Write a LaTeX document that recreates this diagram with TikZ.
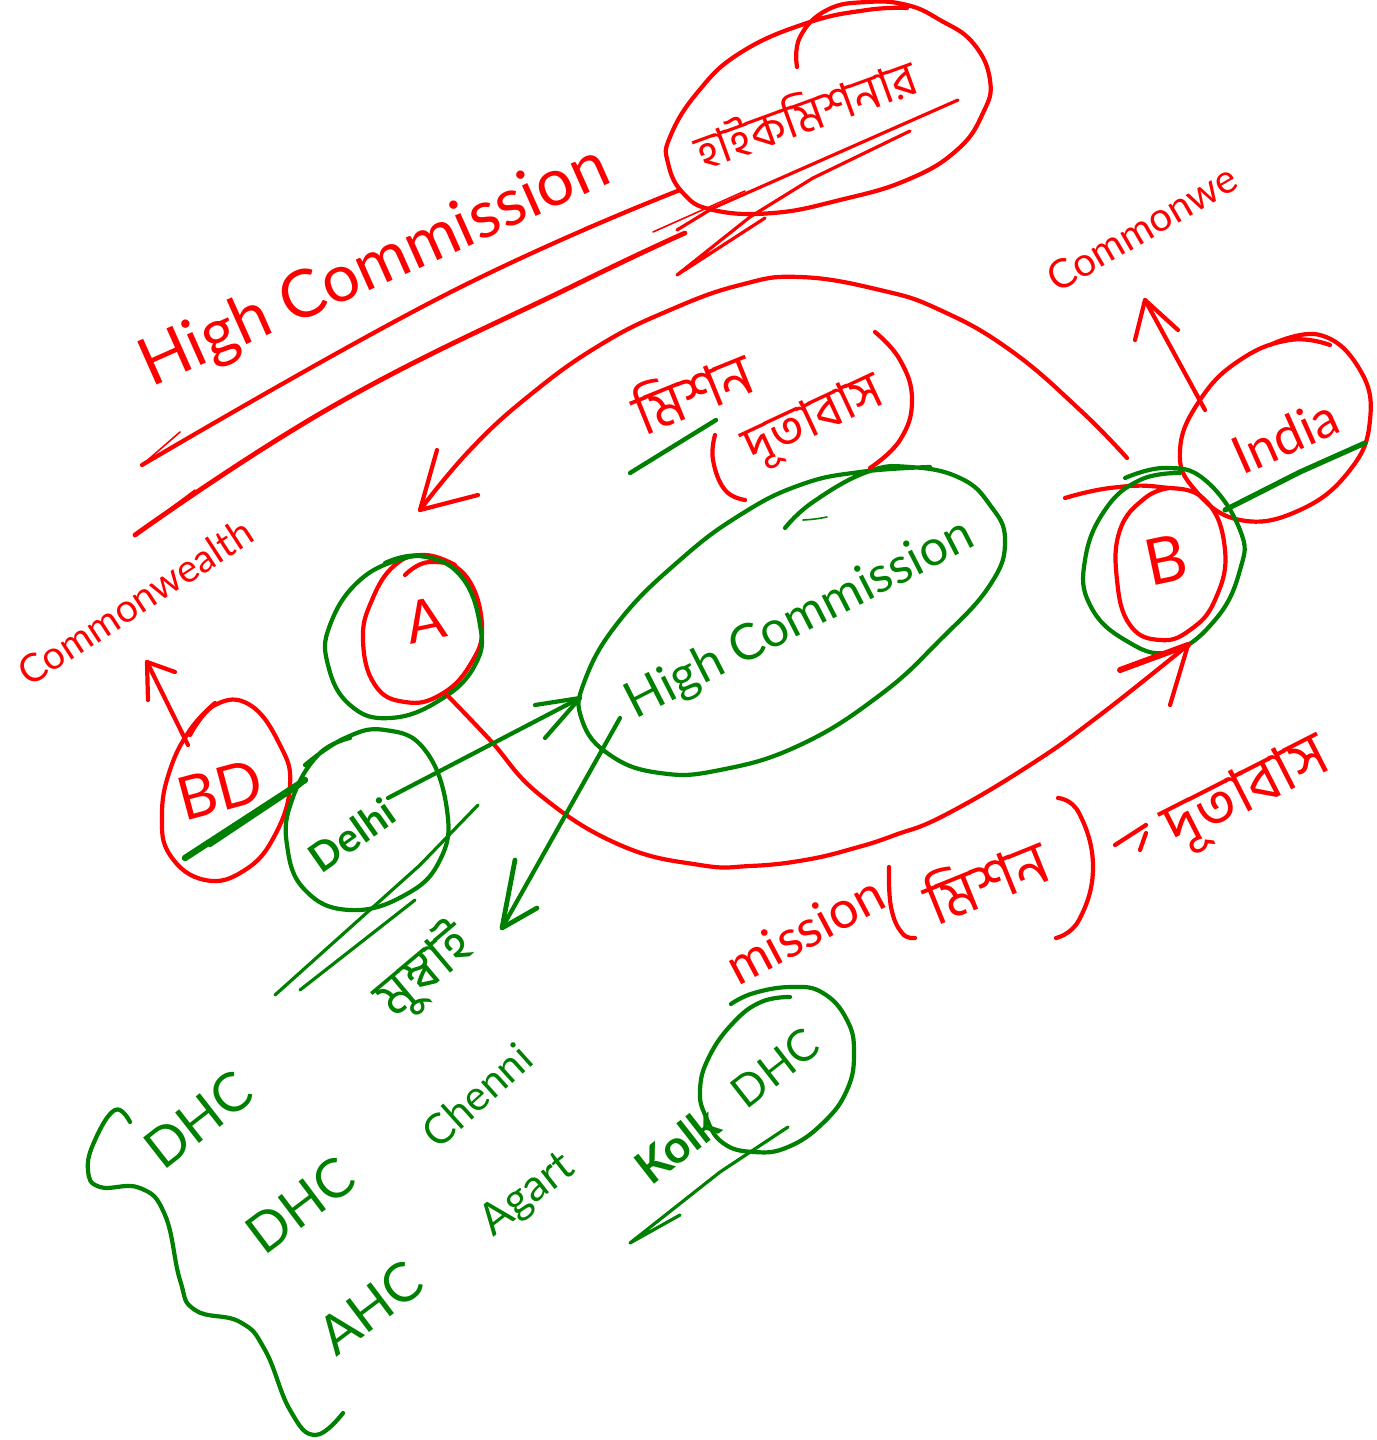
\documentclass[tikz,border=0pt]{standalone}
\usepackage{fontspec}
\setmainfont{Lato}
\newfontfamily\bn[Script=Bengali]{Hind Siliguri}
\definecolor{inkred}{RGB}{255,0,0}
\definecolor{inkgreen}{RGB}{0,128,0}
\newcommand\skk[2]{\draw[#1] plot[smooth,tension=.75] coordinates {#2};}
\tikzset{
  rd/.style={draw=inkred,line width=2.1pt,line cap=round,line join=round},
  gn/.style={draw=inkgreen,line width=2.1pt,line cap=round,line join=round},
  thinr/.style={rd,line width=.8pt},
  thing/.style={gn,line width=.8pt},
  fatr/.style={rd,line width=3pt},
  fatg/.style={gn,line width=3.2pt},
  rt/.style={text=inkred,inner sep=0pt},
  gt/.style={text=inkgreen,inner sep=0pt},
}
\begin{document}
\begin{tikzpicture}[x=0.5pt,y=-0.5pt]
\useasboundingbox (0,0) rectangle (1376,1440);
% ---- text
\node[rt,rotate=24,font=\fontsize{33}{33}\selectfont] (hc1) at (375,268) {High Commission};
\node[rt,rotate=20,font=\bn\fontsize{24}{24}\selectfont] (hckb) at (805,112) {হাইকমিশনার};
\node[rt,rotate=30,font=\fontsize{20}{20}\selectfont] (cwr) at (1142,228) {Commonwe};
\node[rt,rotate=33,font=\fontsize{19.5}{19.5}\selectfont] (cwl) at (135,602) {Commonwealth};
\node[rt,rotate=22,font=\bn\fontsize{29}{29}\selectfont] (mis1) at (692,390) {মিশন};
\node[rt,rotate=25,font=\bn\fontsize{26}{26}\selectfont] (dut1) at (815,422) {দূতাবাস};
\node[rt,rotate=28,font=\fontsize{26}{26}\selectfont] (m2) at (805,930) {mission};
\node[rt,rotate=22,font=\bn\fontsize{30}{30}\selectfont] (mis2) at (985,878) {মিশন};
\node[rt,rotate=27,font=\bn\fontsize{31}{31}\selectfont] (dut2) at (1248,795) {দূতাবাস};
\node[rt,rotate=12,font=\fontsize{29}{29}\selectfont] (a) at (425,620) {A};
\node[rt,rotate=12,font=\fontsize{32}{32}\selectfont] (b) at (1166,560) {B};
\node[rt,rotate=15,font=\fontsize{30}{30}\selectfont] (bd) at (220,790) {BD};
\node[rt,rotate=24,font=\fontsize{26}{26}\selectfont] (india) at (1285,436) {India};
\node[gt,rotate=27,font=\fontsize{25}{25}\selectfont] (hc2) at (800,620) {High Commission};
\node[gt,rotate=35,font=\bfseries\fontsize{20}{20}\selectfont] (delhi) at (352,835) {Delhi};
\node[gt,rotate=40,font=\bn\fontsize{28}{28}\selectfont] (mum) at (425,972) {মুম্বাই};
\node[gt,rotate=38,font=\fontsize{27}{27}\selectfont] (dhc1) at (198,1120) {DHC};
\node[gt,rotate=37,font=\fontsize{27}{27}\selectfont] (dhc2) at (300,1205) {DHC};
\node[gt,rotate=37,font=\fontsize{27}{27}\selectfont] (ahc) at (370,1308) {AHC};
\node[gt,rotate=42,font=\fontsize{21}{21}\selectfont] (chen) at (477,1095) {Chenni};
\node[gt,rotate=38,font=\fontsize{22}{22}\selectfont] (agar) at (528,1195) {Agart};
\node[gt,rotate=38,font=\bfseries\fontsize{23}{23}\selectfont] (kol) at (677,1145) {Kolk};
\node[gt,rotate=38,font=\fontsize{22}{22}\selectfont] (dhc3) at (775,1068) {DHC};
% ---- anchor points of the connectors
\coordinate (aFoot) at (447,695);
\coordinate (bFoot) at (1188,645);
\coordinate (bTop) at (1127,458);
\coordinate (aTop) at (420,510);
\coordinate (indiaEdge) at (1205,410);
\coordinate (cwrFoot) at (1145,300);
\coordinate (bdEdge) at (188,745);
\coordinate (cwlFoot) at (147,662);
\coordinate (delhiEdge) at (388,798);
\coordinate (hcEdge) at (580,698);
\coordinate (hcFoot) at (620,718);
\coordinate (mumTop) at (502,928);
% ---- red circles
\skk{rd}{(797,67)(800,37)(827,10)(867,2)(907,5)(940,20)(973,43)(990,80)(983,113)(957,150)(907,180)(840,200)(773,213)(713,210)(683,193)(668,163)(670,137)(697,93)(740,53)(807,23)(867,10)(907,8)}
\skk{rd}{(405,575)(430,562)(465,575)(482,625)(470,665)(440,695)(405,702)(375,685)(363,640)(372,600)(395,565)(425,555)(455,565)}
\skk{rd}{(190,735)(215,705)(250,705)(280,745)(290,785)(275,835)(245,870)(205,880)(170,855)(162,815)(170,770)(190,730)(215,703)}
\skk{rd}{(1065,498)(1110,488)(1160,487)(1205,500)(1225,550)(1215,600)(1190,630)(1160,640)(1130,625)(1117,580)(1120,530)(1145,498)(1170,488)}
\skk{rd}{(1270,345)(1320,335)(1360,370)(1370,420)(1350,470)(1300,510)(1240,520)(1195,490)(1180,450)(1200,400)(1240,360)(1290,340)(1330,345)}
% ---- green circles
\skk{gn}{(385,563)(420,556)(460,575)(480,625)(475,665)(440,700)(390,718)(350,705)(328,665)(330,625)(360,580)(405,558)(430,558)}
\skk{gn}{(305,765)(345,738)(385,730)(425,750)(447,810)(440,860)(405,895)(350,910)(305,890)(287,845)(292,800)(318,755)(350,738)}
\skk{gn}{(1125,478)(1165,468)(1205,480)(1240,530)(1240,570)(1215,620)(1170,652)(1125,640)(1090,605)(1085,560)(1105,510)(1140,480)(1180,473)}
\skk{gn}{(785,528)(813,502)(867,472)(910,467)(960,478)(990,505)(1005,540)(990,585)(940,640)(880,695)(800,745)(720,770)(660,773)(610,755)(582,720)(585,680)(620,620)(680,560)(740,515)(800,485)(860,472)(930,467)}
\skk{thing}{(803,520)(815,519)(827,517)}
\skk{gn}{(731,1004)(754,993)(792,987)(823,993)(847,1020)(854,1053)(847,1090)(823,1123)(788,1147)(754,1152)(723,1143)(706,1117)(700,1090)(709,1057)(733,1023)(761,1002)(790,997)}
% ---- red connectors with hand drawn heads
\skk{rd}{(aFoot)(490,740)(540,795)(620,845)(700,865)(750,866)(805,860)(855,848)(895,835)(945,815)(1030,765)(1100,715)(bFoot)}
\draw[fatr] (1120,670) -- (bFoot);
\draw[rd] (bFoot) -- (1170,705);
\skk{rd}{(bTop)(1080,410)(1010,350)(940,310)(880,290)(800,277)(740,285)(670,310)(600,345)(530,395)(470,450)(aTop)}
\draw[rd] (437,450) -- (aTop) -- (478,495);
\draw[rd] (indiaEdge) -- (cwrFoot);
\draw[rd] (1135,340) -- (cwrFoot) -- (1178,330);
\draw[rd] (bdEdge) -- (cwlFoot);
\draw[rd] (148,700) -- (cwlFoot) -- (175,672);
% ---- green connectors
\draw[gn] (delhiEdge) -- (hcEdge);
\draw[gn] (535,705) -- (hcEdge) -- (545,738);
\draw[gn] (hcFoot) -- (mumTop);
\draw[fatg,line width=2.4pt] (515,860) -- (mumTop) -- (537,908);
% ---- red underlines
\skk{rd}{(142,465)(445,295)(680,190)}
\skk{fatr,line width=2.4pt}{(135,535)(335,405)(575,285)(685,233)}
\draw[thinr] (142,465) -- (180,432);
\draw[thinr] (135,535) -- (195,490);
\draw[rd,line width=1.6pt] (958,100) -- (713,208) -- (677,230);
\draw[rd,line width=1.6pt] (910,131) -- (813,178) -- (750,217) -- (677,275) -- (765,218);
\draw[thinr] (745,191) -- (653,232);
\draw[thinr] (585,228) -- (640,205);
% ---- red parens and dash
\skk{rd}{(875,332)(900,360)(912,400)(900,440)(870,468)}
\skk{rd}{(715,435)(713,460)(725,490)(745,500)}
\skk{rd}{(889,867)(891,907)(902,933)(915,938)}
\skk{rd}{(1058,798)(1079,813)(1093,867)(1079,920)(1056,938)}
\draw[rd] (1115,845) -- (1146,825) (1146,833) -- (1140,850);
% ---- green underlines
\draw[fatg,line width=2.2pt] (630,473) -- (716,420);
\draw[fatg,line width=2.6pt] (1225,510) -- (1300,472) -- (1365,443);
\draw[fatg] (185,858) -- (305,780);
\draw[gn] (210,845) -- (300,785);
\draw[gn,line width=1.6pt] (275,995) -- (420,865) -- (478,805);
\draw[gn,line width=1.6pt] (300,990) -- (415,900);
\draw[gn,line width=1.6pt] (788,1127) -- (720,1172) -- (630,1243) -- (680,1215);
% ---- bracket
\skk{gn}{(130,1122)(115,1110)(95,1140)(88,1170)(100,1187)(140,1188)(165,1215)(180,1280)(195,1310)(240,1322)(265,1350)(290,1410)(315,1435)(343,1413)}
\end{tikzpicture}
\end{document}
